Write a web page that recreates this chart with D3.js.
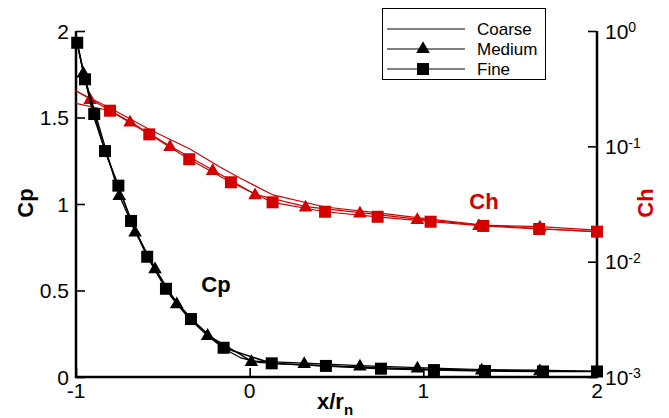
<!DOCTYPE html>
<html><head><meta charset="utf-8">
<script src="https://cdn.jsdelivr.net/npm/d3@7"></script>
<style>
html,body{margin:0;padding:0;background:#fff;}
svg text{font-family:"Liberation Sans",Arial,Helvetica,sans-serif;}
</style></head>
<body>
<svg id="c" width="669" height="418"></svg>
<script>
// ---- data ----
const xTicks = [-1, 0, 1, 2];
const cpTicks = [0, 0.5, 1, 1.5, 2];
const chTicks = [1e-3, 1e-2, 1e-1, 1];
const chTickExp = ["-3", "-2", "-1", "0"];
const legendLabels = ["Coarse", "Medium", "Fine"];

// Cp – Coarse (line only)
const cpCoarseX = [-1, -0.95, -0.9, -0.83, -0.75, -0.65, -0.55, -0.45, -0.35, -0.25, -0.15, -0.05, 0.05, 0.2, 0.5, 1.0, 1.5, 2.0];
const cpCoarseY = [1.96, 1.73, 1.51, 1.30, 1.08, 0.83, 0.63, 0.46, 0.34, 0.245, 0.165, 0.11, 0.085, 0.075, 0.062, 0.045, 0.036, 0.032];
// Cp – Medium (triangles)
const cpMediumX = [-0.958, -0.751, -0.660, -0.545, -0.420, -0.242, 0.010, 0.314, 0.635, 0.966, 1.336, 1.671];
const cpMediumY = [1.759, 1.052, 0.840, 0.628, 0.426, 0.243, 0.092, 0.080, 0.066, 0.054, 0.043, 0.039];
// Cp – Fine (squares)
const cpFineX = [-0.993, -0.948, -0.895, -0.833, -0.756, -0.683, -0.590, -0.482, -0.338, -0.150, 0.127, 0.439, 0.756, 1.061, 1.355, 1.689, 2.0];
const cpFineY = [1.932, 1.721, 1.520, 1.306, 1.106, 0.902, 0.695, 0.510, 0.335, 0.169, 0.079, 0.064, 0.048, 0.040, 0.035, 0.032, 0.032];

// Ch – Coarse (line only)
const chCoarseX = [-1, -0.804, -0.574, -0.344, -0.171, -0.056, 0.134, 0.434, 0.750, 1.038, 1.343, 1.671, 2.0];
const chCoarseY = [0.302, 0.215, 0.139, 0.0949, 0.0662, 0.0531, 0.0379, 0.0298, 0.0264, 0.0234, 0.0208, 0.0194, 0.0181];
// Ch – Medium (triangles); line starts at x = -1 and ends at x = 2
const chMediumStartY = 0.303;
const chMediumX = [-0.919, -0.689, -0.459, -0.213, 0.031, 0.322, 0.635, 0.965, 1.320, 1.671];
const chMediumY = [0.257, 0.1637, 0.1007, 0.0624, 0.0384, 0.0300, 0.0266, 0.0234, 0.0208, 0.0201];
const chMediumEndY = 0.0188;
// Ch – Fine (squares); line starts at x = -1
const chFineStartY = 0.236;
const chFineX = [-0.804, -0.578, -0.348, -0.108, 0.132, 0.434, 0.737, 1.042, 1.345, 1.667, 2.0];
const chFineY = [0.2037, 0.127, 0.0773, 0.0488, 0.0327, 0.0271, 0.0245, 0.0222, 0.0204, 0.0192, 0.0182];

// ---- chart ----
const svg = d3.select("#c");
const L = 76, R = 597, T = 31, B = 377;
const RED = "#d40000";
const x = d3.scaleLinear().domain([-1, 2]).range([L, R]);
const yCp = d3.scaleLinear().domain([0, 2]).range([B, T]);
const yCh = d3.scaleLog().domain([1e-3, 1]).range([B, T]);

const zip = (xs, ys) => xs.map((v, i) => [v, ys[i]]);
const lineCp = d3.line().x(d => x(d[0])).y(d => yCp(d[1]));
const lineCh = d3.line().x(d => x(d[0])).y(d => yCh(d[1]));

// axes ticks
const minorCp = d3.range(0, 2.0001, 0.1).map(v => +v.toFixed(2));
const minorX = d3.range(-1, 2.0001, 0.2).map(v => +v.toFixed(2));
const minorCh = [];
[1e-3, 1e-2, 1e-1].forEach(d => { for (let k = 2; k <= 9; k++) minorCh.push(d * k); });

const gL = svg.append("g").attr("transform", `translate(${L},0)`);
gL.call(d3.axisRight(yCp).tickValues(minorCp).tickSize(5).tickFormat(""));
gL.call(d3.axisRight(yCp).tickValues(cpTicks).tickSize(9).tickFormat(""));
const gR = svg.append("g").attr("transform", `translate(${R},0)`);
gR.call(d3.axisLeft(yCh).tickValues(minorCh).tickSize(5).tickFormat(""));
gR.call(d3.axisLeft(yCh).tickValues(chTicks).tickSize(9).tickFormat(""));
const gB = svg.append("g").attr("transform", `translate(0,${B})`);
gB.call(d3.axisTop(x).tickValues(minorX).tickSize(5).tickFormat(""));
gB.call(d3.axisTop(x).tickValues(xTicks).tickSize(9).tickFormat(""));
svg.selectAll(".domain").remove();
svg.selectAll(".tick line").attr("stroke", "#000").attr("stroke-width", 1.6);

// axis lines
svg.append("line").attr("x1", L).attr("x2", L).attr("y1", T).attr("y2", B + 1).attr("stroke", "#000").attr("stroke-width", 2.5);
svg.append("line").attr("x1", R).attr("x2", R).attr("y1", T).attr("y2", B + 1).attr("stroke", "#000").attr("stroke-width", 2.5);
svg.append("line").attr("x1", L - 1).attr("x2", R + 1).attr("y1", B).attr("y2", B).attr("stroke", "#000").attr("stroke-width", 2.5);

// tick labels
svg.selectAll(".cpl").data(cpTicks).join("text")
  .attr("x", L - 7).attr("y", d => yCp(d)).attr("dy", "0.36em")
  .attr("text-anchor", "end").attr("font-size", 21).text(d => d);
svg.selectAll(".xl").data(xTicks).join("text")
  .attr("x", d => x(d)).attr("y", B + 21)
  .attr("text-anchor", "middle").attr("font-size", 21).text(d => d);
const chl = svg.selectAll(".chl").data(chTicks).join("text")
  .attr("x", R + 8).attr("y", d => yCh(d)).attr("dy", "0.36em")
  .attr("font-size", 21);
chl.append("tspan").text("10");
chl.append("tspan").attr("dy", "-0.45em").attr("font-size", 14).text((d, i) => chTickExp[i]);

// axis titles
svg.append("text").attr("transform", `translate(33,203) rotate(-90)`)
  .attr("text-anchor", "middle").attr("font-size", 22).attr("font-weight", "bold").text("Cp");
svg.append("text").attr("transform", `translate(653,203) rotate(-90)`)
  .attr("text-anchor", "middle").attr("font-size", 22).attr("font-weight", "bold").attr("fill", RED).text("Ch");
const xt = svg.append("text").attr("x", 335).attr("y", 409).attr("text-anchor", "middle")
  .attr("font-size", 22).attr("font-weight", "bold");
xt.append("tspan").text("x/r");
xt.append("tspan").attr("dy", 6).attr("font-size", 15).text("n");

// annotations
svg.append("text").attr("x", 216).attr("y", 292).attr("text-anchor", "middle")
  .attr("font-size", 22).attr("font-weight", "bold").text("Cp");
svg.append("text").attr("x", 484).attr("y", 209).attr("text-anchor", "middle")
  .attr("font-size", 22).attr("font-weight", "bold").attr("fill", RED).text("Ch");

// markers
const sq = 12, tri = d3.symbol().type(d3.symbolTriangle).size(80);
function squares(g, pts, sy, col) {
  g.selectAll(null).data(pts).join("rect")
    .attr("x", d => x(d[0]) - sq / 2).attr("y", d => sy(d[1]) - sq / 2)
    .attr("width", sq).attr("height", sq).attr("fill", col);
}
function triangles(g, pts, sy, col) {
  g.selectAll(null).data(pts).join("path").attr("d", tri)
    .attr("transform", d => `translate(${x(d[0])},${sy(d[1]) + 1})`).attr("fill", col);
}

// Ch curves
const gCh = svg.append("g");
gCh.append("path").attr("d", lineCh(zip(chCoarseX, chCoarseY))).attr("fill", "none").attr("stroke", RED).attr("stroke-width", 1.2);
const chMedLine = [[-1, chMediumStartY]].concat(zip(chMediumX, chMediumY), [[2, chMediumEndY]]);
gCh.append("path").attr("d", lineCh(chMedLine)).attr("fill", "none").attr("stroke", RED).attr("stroke-width", 1.2);
const chFineLine = [[-1, chFineStartY]].concat(zip(chFineX, chFineY));
gCh.append("path").attr("d", lineCh(chFineLine)).attr("fill", "none").attr("stroke", RED).attr("stroke-width", 1.2);
triangles(gCh, zip(chMediumX, chMediumY), yCh, RED);
squares(gCh, zip(chFineX, chFineY), yCh, RED);

// Cp curves
const gCp = svg.append("g");
gCp.append("path").attr("d", lineCp(zip(cpCoarseX, cpCoarseY))).attr("fill", "none").attr("stroke", "#000").attr("stroke-width", 1.3);
gCp.append("path").attr("d", lineCp([[-1, cpCoarseY[0]]].concat(zip(cpMediumX, cpMediumY), [[2, cpFineY[cpFineY.length - 1]]]))).attr("fill", "none").attr("stroke", "#000").attr("stroke-width", 1.3);
gCp.append("path").attr("d", lineCp(zip(cpFineX, cpFineY))).attr("fill", "none").attr("stroke", "#000").attr("stroke-width", 1.5);
triangles(gCp, zip(cpMediumX, cpMediumY), yCp, "#000");
squares(gCp, zip(cpFineX, cpFineY), yCp, "#000");

// legend
const lg = svg.append("g");
lg.append("rect").attr("x", 382.5).attr("y", 8.5).attr("width", 163).attr("height", 71)
  .attr("fill", "#fff").attr("stroke", "#000").attr("stroke-width", 1);
legendLabels.forEach((lab, i) => {
  const yy = 29 + i * 20;
  lg.append("line").attr("x1", 387).attr("x2", 465).attr("y1", yy).attr("y2", yy).attr("stroke", "#000").attr("stroke-width", 1);
  lg.append("text").attr("x", 477).attr("y", yy).attr("dy", "0.36em").attr("font-size", 17).text(lab);
  if (i === 1) lg.append("path").attr("d", tri).attr("transform", `translate(423,${yy})`).attr("fill", "#000");
  if (i === 2) lg.append("rect").attr("x", 423 - sq / 2).attr("y", yy - sq / 2).attr("width", sq).attr("height", sq).attr("fill", "#000");
});
</script>
</body></html>
